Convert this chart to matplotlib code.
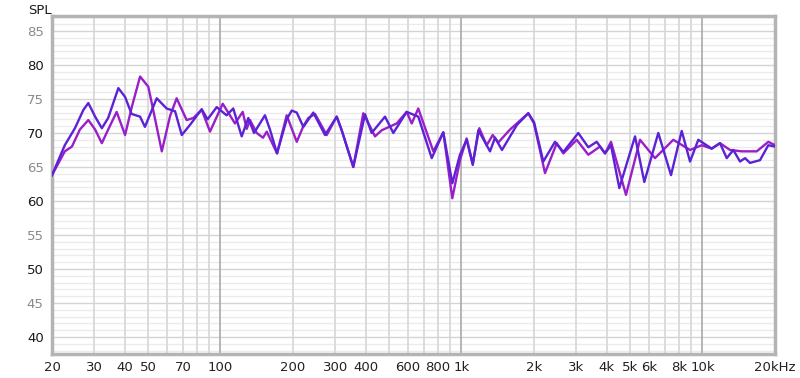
import matplotlib
matplotlib.use("Agg")
import matplotlib.pyplot as plt
from matplotlib.ticker import FixedLocator, NullFormatter

# ---- data ----
freq_a = [20, 22.6, 24.9, 27.0, 28.3, 30.2, 32.2, 34.2, 37.7, 40.2, 42.8, 46.4, 48.6,
          54.4, 59.8, 64.8, 69.1, 74.8, 83.6, 88.4, 96.5, 106, 113, 122.5, 130.5,
          137.8, 153, 160.5, 171.7, 188.3, 197.6, 207.3, 220.8, 242.8, 271.6, 303.7,
          318.5, 355.8, 398, 424, 481.8, 521.5, 592.6, 662, 752.8, 840.9, 916.3, 986,
          1051, 1114, 1175, 1314, 1378, 1473, 1700, 1894, 2000, 2186, 2444, 2647, 3053,
          3360, 3641, 3942, 4174, 4519, 5251, 5738, 6558, 7406, 8202, 8881, 9612,
          10925, 11825, 12610, 13430, 14320, 15020, 15750, 17330, 18760, 20000]
spl_a = [63.8, 68.2, 70.7, 73.4, 74.4, 72.4, 70.7, 72.2, 76.6, 75.3, 72.8, 72.4, 70.9,
         75.1, 73.6, 73.2, 69.7, 71.2, 73.5, 72.0, 73.8, 72.6, 73.6, 69.5, 72.2,
         70.0, 72.6, 70.5, 67.0, 72.0, 73.3, 73.0, 70.9, 73.0, 69.7, 72.4,
         70.4, 65.0, 72.75, 70.0, 72.4, 70.0, 73.1, 72.4, 66.3, 70.1, 62.6, 66.8,
         69.0, 65.3, 70.4, 67.3, 69.3, 67.5, 71.2, 72.9, 71.6, 65.8, 68.7, 67.2, 70.0,
         67.9, 68.7, 67.0, 68.2, 61.9, 69.5, 62.8, 70.0, 63.8, 70.3, 65.8, 69.0,
         67.7, 68.5, 66.3, 67.5, 65.8, 66.3, 65.6, 66.0, 68.2, 68.0]

freq_b = [20, 22.6, 24.2, 26.1, 28.3, 30.2, 32.2, 34.2, 37.1, 40.2, 43.0, 46.4, 50.2,
          52.5, 57.1, 61.8, 65.8, 72.4, 77.2, 83.6, 90.5, 102.2, 114.9, 123.7, 128.5,
          132.6, 141.4, 150.2, 155.6, 171.7, 188.3, 207.3, 220.8, 231.5, 246.8, 276,
          303.7, 318.5, 355.8, 391.5, 437.8, 466.8, 538.6, 592.6, 621.8, 662, 764.3,
          840.9, 916.3, 986, 1051, 1114, 1186, 1273, 1348, 1422, 1590, 1894, 2000, 2222,
          2485, 2647, 3008, 3360, 3757, 3942, 4174, 4817, 5507, 6355, 7569, 8881,
          9929, 10925, 11825, 13015, 14550, 16800, 18760, 20000]
spl_b = [63.8, 67.3, 68.0, 70.5, 71.9, 70.5, 68.5, 70.5, 73.1, 69.7, 74.0, 78.3, 76.8,
         73.5, 67.3, 72.5, 75.1, 71.9, 72.2, 73.4, 70.2, 74.3, 71.4, 73.1, 70.6,
         71.9, 70.0, 69.3, 70.2, 67.0, 72.6, 68.7, 71.0, 72.2, 72.8, 69.7,
         72.4, 70.4, 65.0, 72.9, 69.5, 70.4, 71.4, 73.1, 71.4, 73.6, 67.3,
         70.1, 60.4, 66.0, 69.2, 65.5, 70.7, 68.2, 69.7, 68.6, 70.5, 72.9, 71.4, 64.1,
         68.5, 67.0, 69.0, 66.8, 68.0, 67.0, 68.7, 60.9, 69.0, 66.3, 69.0, 67.5,
         68.2, 67.7, 68.5, 67.5, 67.3, 67.3, 68.7, 68.2]

x_ticks = [20, 30, 40, 50, 70, 100, 200, 300, 400, 600, 800, 1000, 2000, 3000,
           4000, 5000, 6000, 8000, 10000, 20000]
x_labels = ["20", "30", "40", "50", "70", "100", "200", "300", "400", "600", "800",
            "1k", "2k", "3k", "4k", "5k", "6k", "8k", "10k", "20kHz"]
y_ticks = [40, 45, 50, 55, 60, 65, 70, 75, 80, 85]

# ---- figure ----
fig = plt.figure(figsize=(8.0, 3.78), dpi=100)
ax = fig.add_axes([52 / 800, 24 / 378, 723 / 800, 338 / 378])
ax.set_xscale("log")
ax.set_xlim(20, 20000)
ax.set_ylim(37.5, 87.2)

# grid lines
for v in range(38, 88):
    c = "#d4d4d4" if v % 5 == 0 else "#ebebeb"
    ax.axhline(v, color=c, lw=1.0, zorder=1)
minor_x = [f for dec in (10, 100, 1000, 10000) for f in
           [dec * k for k in range(2, 10)] if 20 <= f <= 20000]
for f in minor_x:
    ax.axvline(f, color="#d6d6d6", lw=1.2, zorder=1.5)
for f in (100, 1000, 10000):
    ax.axvline(f, color="#a9a9a9", lw=1.2, zorder=1.6)

ax.plot(freq_b, spl_b, color="#9a1fc8", lw=1.7, zorder=3, solid_joinstyle="round")
ax.plot(freq_a, spl_a, color="#5b22d6", lw=1.7, zorder=4, solid_joinstyle="round")

ax.xaxis.set_major_locator(FixedLocator(x_ticks))
ax.xaxis.set_minor_formatter(NullFormatter())
ax.xaxis.set_minor_locator(FixedLocator([]))
ax.set_xticklabels(x_labels)
ax.set_yticks(y_ticks)
ax.set_yticklabels([str(v) for v in y_ticks])
ax.tick_params(axis="both", length=0, labelsize=9.5)
ax.tick_params(axis="x", pad=5, colors="#222222")
ax.tick_params(axis="y", pad=6)
for lab, v in zip(ax.get_yticklabels(), y_ticks):
    lab.set_color("#1a1a1a" if v % 10 == 0 else "#8a8a8a")

for s in ax.spines.values():
    s.set_color("#b4b4b4")
    s.set_linewidth(2.5)

fig.text(28 / 800, 1 - 10 / 378, "SPL", fontsize=9.5, va="center", ha="left",
         color="#1a1a1a")

fig.savefig("out.png", dpi=100)
